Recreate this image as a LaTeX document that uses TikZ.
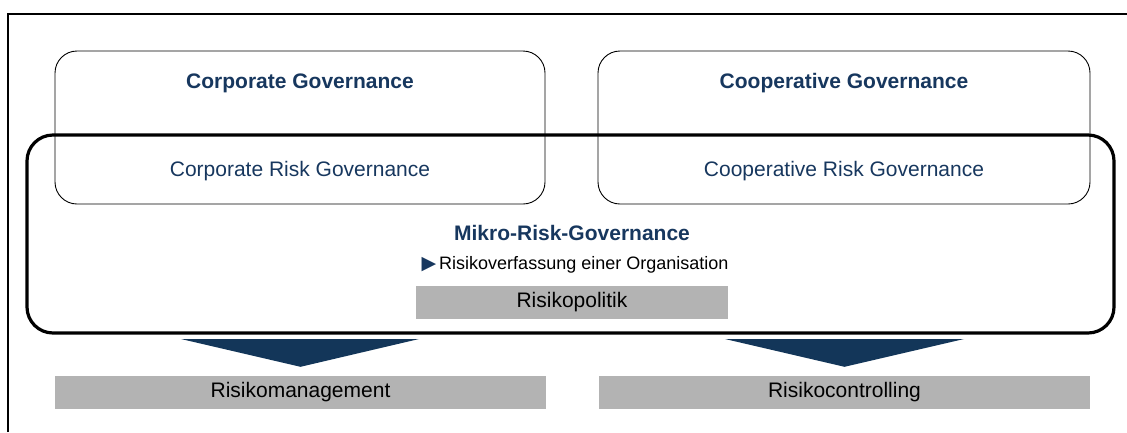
\documentclass[tikz,border=0pt]{standalone}
\usepackage{fontspec}
\setmainfont{Liberation Sans}
\newfontfamily\symfont{DejaVu Sans}
\usetikzlibrary{calc}
\usetikzlibrary{positioning}
\definecolor{navy}{HTML}{17375E}
\definecolor{arrowblue}{HTML}{133659}
\definecolor{barGray}{HTML}{B3B3B3}
\newcommand\bigtxt[0]{\fontsize{21}{25}\selectfont}
\newcommand\midtxt[0]{\fontsize{18}{22}\selectfont}
\tikzset{
  govbox/.style={draw=black, line width=0.9pt, rounded corners=22pt, minimum width=490pt, minimum height=153pt},
  graybar/.style={fill=barGray, inner sep=0pt, minimum height=33pt, text=black, font=\bigtxt},
  headtxt/.style={text=navy, font=\bigtxt\bfseries},
  subtxt/.style={text=navy, font=\bigtxt},
  chevron/.style={fill=arrowblue}
}

\begin{document}
\begin{tikzpicture}[x=1pt,y=-1pt]

\useasboundingbox (0,0) rectangle (1127,432);
\draw[line width=1.2pt] (8,432) -- (8,14) -- (1127,14);

\node[govbox] (corp) at (300,127.5) {};
\node[govbox, minimum width=492pt] (coop) at (844,127.5) {};

\node[headtxt] (corpT) at (300,83) {Corporate Governance};
\node[subtxt] (corpR) at (300,171) {Corporate Risk Governance};
\node[headtxt] (coopT) at (844,83) {Cooperative Governance};
\node[subtxt] (coopR) at (844,171) {Cooperative Risk Governance};

\node[draw=black, line width=3.2pt, rounded corners=26pt, minimum width=1087pt, minimum height=198pt] (mikro) at (570.5,234) {};
\node[headtxt] (mikroT) at (572,233) {Mikro-Risk-Governance};
\node[text=black, font=\midtxt] (verf) at (575,265) {{\symfont\fontsize{19}{21}\selectfont\color{navy}▶}\hspace{3pt}Risikoverfassung einer Organisation};
\node[graybar, minimum width=312pt] (politik) at (572,302) {Risikopolitik};

\node[graybar, minimum width=491pt] (mgmt) at (300.5,392.5) {Risikomanagement};
\node[graybar, minimum width=491pt] (contr) at (844.5,392.5) {Risikocontrolling};

\coordinate (mL) at (181,339);
\coordinate (mR) at (419,339);
\coordinate (cL) at (725,339);
\coordinate (cR) at (964,339);
\fill[chevron] (mL) -- (mR) -- ($(mgmt.north)+(0,-9)$) -- cycle;
\fill[chevron] (cL) -- (cR) -- ($(contr.north)+(0,-9)$) -- cycle;

\end{tikzpicture}
\end{document}
